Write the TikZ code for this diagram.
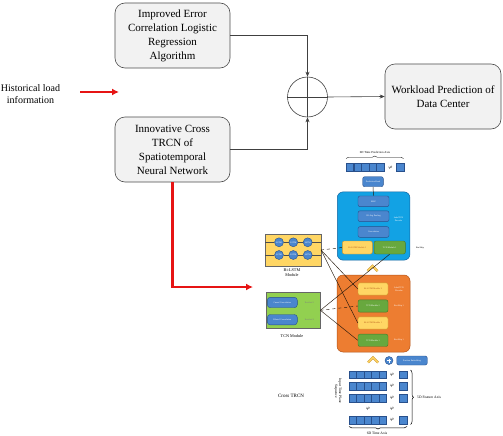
\documentclass[tikz,border=0pt]{standalone}
\usepackage{fontspec}
\setmainfont{Liberation Serif}
\usetikzlibrary{arrows.meta,decorations.pathreplacing,calc}
\definecolor{cyanbox}{RGB}{18,162,228}
\definecolor{cyanborder}{RGB}{20,100,160}
\definecolor{orangebox}{RGB}{237,125,49}
\definecolor{orangeborder}{RGB}{180,85,25}
\definecolor{yellowbox}{RGB}{255,214,100}
\definecolor{yellowborder}{RGB}{205,150,40}
\definecolor{greenbox}{RGB}{104,168,62}
\definecolor{greenborder}{RGB}{70,120,40}
\definecolor{bluefill}{RGB}{74,134,206}
\definecolor{blueborder}{RGB}{40,80,140}
\definecolor{lightgreen}{RGB}{146,208,80}
\definecolor{boxgray}{RGB}{242,242,242}
\definecolor{redline}{RGB}{230,20,20}
\newcommand\tinyf{\fontsize{2.2}{2.6}\selectfont}
\begin{document}
\begin{tikzpicture}[x=1pt,y=-1pt,
  mainbox/.style={draw=black!70, rounded corners=10pt, fill=boxgray, line width=0.6pt,
    minimum width=115pt, minimum height=65pt, align=center, inner sep=1pt,
    font=\fontsize{11}{14}\selectfont},
  arr/.style={draw=black!75, line width=0.6pt, -{Stealth[length=5pt,width=4pt]}},
  redarr/.style={draw=redline, line width=2.2pt, -{Latex[length=7pt,width=7pt]}},
  sq/.style={draw=blueborder, fill=bluefill, minimum width=7.5pt, minimum height=7.5pt, inner sep=0, line width=0.3pt},
  bbox/.style={draw=blueborder, fill=bluefill, rounded corners=2pt, line width=0.4pt, inner sep=0,
    font=\tinyf, text=white, align=center},
  ybox/.style={draw=yellowborder, fill=yellowbox, rounded corners=2pt, line width=0.4pt, inner sep=0,
    font=\tinyf, text=orangeborder, minimum width=30pt, align=center},
  gbox/.style={draw=greenborder, fill=greenbox, rounded corners=2pt, line width=0.4pt, inner sep=0,
    font=\tinyf, text=white, minimum width=30pt, align=center},
  lbl/.style={font=\fontsize{3.6}{4.2}\selectfont, align=center, inner sep=0},
  wlbl/.style={font=\tinyf, text=white, align=center, inner sep=0},
  conn/.style={draw=black!80!brown, line width=0.45pt},
  chev/.style={line width=2.4pt, draw=yellowborder, line join=miter},
  chevin/.style={line width=1.3pt, draw=yellowbox, line join=miter},
]
\useasboundingbox[fill=white] (0,0) rectangle (503,436);

% ---------- upper flow ----------
\node[mainbox] (alg) at (172.5,35.5) {Improved Error\\Correlation Logistic\\Regression\\Algorithm};
\node[mainbox] (trcn) at (172.5,149.5) {Innovative Cross\\TRCN of\\Spatiotemporal\\Neural Network};
\node[mainbox, minimum width=116pt] (wp) at (443,96.5) {Workload Prediction of\\Data Center};
\node[circle, draw=black!75, line width=0.6pt, minimum size=40pt, inner sep=0] (sum) at (307.5,97) {};
\draw[draw=black!75, line width=0.6pt] (sum.north)--(sum.south) (sum.west)--(sum.east);
\draw[arr] (alg.east) -| (sum.north);
\draw[arr] (trcn.east) -| (sum.south);
\draw[arr] (sum.east) -- (wp.west);

\node[font=\fontsize{10}{12}\selectfont, align=center, inner sep=0] (hist) at (30.5,94) {Historical load\\information};
\coordinate (histend) at (119,92);
\draw[redarr] (hist.east |- histend) ++(20,0) -- (histend);
\coordinate (redend) at (253,287);
\draw[redarr] (trcn.south) |- (redend);

% ---------- top prediction row ----------
\node[lbl, font=\fontsize{3}{3.5}\selectfont] (tpa) at (375,152.5) {6D Time Prediction Axis};
\draw[decorate, decoration={brace, amplitude=2.5pt}, line width=0.4pt] (346,158.5) -- (403.5,158.5);
\foreach \i in {0,...,4} {
  \node[sq] (top\i) at ({349.8+7.6*\i},167) {};
}
\node[lbl, font=\fontsize{3}{3}\selectfont] (tphi) at (390.5,167.5) {$\varphi$};
\node[sq] (toplast) at (400,167) {};

\node[bbox, minimum width=20.6pt, minimum height=10pt] (ph) at (373,181.7) {Prediction Head};

% ---------- cyan decoder ----------
\node[draw=cyanborder, fill=cyanbox, rounded corners=6pt, line width=0.5pt,
      minimum width=72.7pt, minimum height=68.3pt, inner sep=0] (cyan) at (373.6,226) {};
\node[bbox, minimum width=31pt, minimum height=10.7pt] (mlp) at (373.5,201.3) {MLP};
\node[bbox, minimum width=31pt, minimum height=10.7pt] (avg) at (373.5,216.2) {1D Avg Pooling};
\node[bbox, minimum width=31pt, minimum height=10.7pt] (cnv) at (373.5,232) {Convolution};
\draw[conn] (ph.south) -- (mlp.north);
\node[wlbl] (cdec) at (398.5,219) {LabelTCN\\Decoder};
\node[ybox, minimum height=13pt] (cy) at (357.3,247.5) {Bi-LSTM Module 1};
\node[gbox, minimum width=31.3pt, minimum height=13pt] (cg) at (389.7,247.5) {TCN Module 1};
\node[lbl, font=\tinyf] (rs0) at (420,247.5) {Res/Skip};

\draw[chev] (367.5,271) -- (372.5,266) -- (377.5,271);
\draw[chevin] (367.5,271) -- (372.5,266) -- (377.5,271);

% ---------- orange encoder ----------
\node[draw=orangeborder, fill=orangebox, rounded corners=6pt, line width=0.5pt,
      minimum width=73pt, minimum height=77pt, inner sep=0] (orng) at (373.5,313.5) {};
\node[ybox, minimum height=12.3pt] (oy1) at (373,289) {Bi-LSTM Module 2};
\node[gbox, minimum height=12.3pt] (og1) at (373,306) {TCN Module 2};
\node[ybox, minimum height=12.3pt] (oy2) at (373,323) {Bi-LSTM Module 1};
\node[gbox, minimum height=12.3pt] (og2) at (373,340.3) {TCN Module 1};
\node[wlbl] (odec) at (399,289.5) {LabelTCN\\Decoder};
\node[wlbl] (rs1) at (399,306) {Res/Skip 1};
\node[wlbl] (rs2) at (399,340.3) {Res/Skip 1};

\draw[chev] (368,362.5) -- (373,357.5) -- (378,362.5);
\draw[chevin] (368,362.5) -- (373,357.5) -- (378,362.5);
\node[circle, draw=blueborder, fill=bluefill, minimum size=8pt, inner sep=0, line width=0.4pt] (pp) at (389,360.5) {};
\draw[white, line width=0.5pt] ($(pp.center)+(-2,0)$) -- ($(pp.center)+(2,0)$) ($(pp.center)+(0,-2)$) -- ($(pp.center)+(0,2)$);
\node[bbox, minimum width=30.5pt, minimum height=9pt] (pe) at (412,360.5) {Position Embedding};

% ---------- input grid ----------
\foreach \r/\yy in {1/374.5,2/386,3/398,4/420} {
  \foreach \i in {0,...,4} {
    \node[sq] (g\r\i) at ({352.75+7.5*\i},\yy) {};
  }
  \node[lbl, font=\fontsize{3}{3}\selectfont] (gphi\r) at (392,\yy) {$\varphi$};
  \node[sq] (gl\r) at (403,\yy) {};
}
\node[lbl, font=\fontsize{3}{3}\selectfont] (vd1) at (368,409) {$\varphi$};
\node[lbl, font=\fontsize{3}{3}\selectfont] (vd2) at (392,409) {$\varphi$};
\draw[decorate, decoration={brace, amplitude=3pt}, line width=0.5pt] (410.5,370) -- (410.5,424.5);
\node[lbl, anchor=west] (fax) at (417,397) {5D Feature Axis};
\draw[decorate, decoration={brace, amplitude=2.5pt}, line width=0.5pt] (407,426.5) -- (349,426.5);
\node[lbl] (tax) at (377,433.5) {6D Time Axis};
\node[lbl, rotate=-90] (its) at (338,391) {Input Time Plane\\Sequence};
\node[lbl, font=\fontsize{5}{6}\selectfont] (ctrcn) at (291,396) {Cross TRCN};

% ---------- Bi-LSTM module ----------
\node[draw=black!60, fill=yellowbox, line width=0.5pt, minimum width=55.5pt, minimum height=31.5pt, inner sep=0] (bl) at (293,250) {};
\foreach \c/\xx/\yy in {11/279/242.3,12/293.3/242.3,13/307.7/242.3,21/279/255,22/293.3/255,23/307.7/255} {
  \node[circle, draw=blueborder, fill=bluefill, minimum size=9pt, inner sep=0, line width=0.4pt, font=\tinyf, text=white] (c\c) at (\xx,\yy) {LSTM};
}
\draw[draw=black!70, line width=0.5pt] (bl.west |- c11) -- (c11) (c11) -- (c12) (c12) -- (c13) (c13) -- (bl.east |- c13);
\draw[draw=black!70, line width=0.5pt] (bl.west |- c21) -- (c21) (c21) -- (c22) (c22) -- (c23) (c23) -- (bl.east |- c23);
\node[lbl, font=\fontsize{4.2}{5}\selectfont] (bllbl) at (292,272.5) {Bi-LSTM\\Module};

% ---------- TCN module ----------
\node[draw=black!60, fill=lightgreen, line width=0.5pt, minimum width=54.3pt, minimum height=36pt, inner sep=0] (tcn) at (293,310.3) {};
\node[bbox, minimum width=30pt, minimum height=10.4pt, rounded corners=3pt] (cc1) at (282.3,302.5) {Causal Convolution};
\node[bbox, minimum width=30pt, minimum height=10.4pt, rounded corners=3pt] (cc2) at (282.3,319.7) {Dilated Convolution};
\node[lbl, font=\tinyf, text=black!50] (res1) at (309.5,302.5) {Residual 1};
\node[lbl, font=\tinyf, text=black!50] (res2) at (309.5,319.7) {Residual 2};
\node[lbl, font=\fontsize{4.2}{5}\selectfont] (tcnlbl) at (292,336) {TCN Module};

% ---------- connections ----------
\draw[conn, dashed] (bl.east) -- (cy.west);
\draw[conn] (bl.east) -- (oy1.west);
\draw[conn] (bl.east) -- (oy2.west);
\draw[conn] (tcn.east) -- (cg.south);
\draw[conn, dashed] (tcn.east) -- (og1.west);
\draw[conn] (tcn.east) -- (og2.west);
\end{tikzpicture}
\end{document}
